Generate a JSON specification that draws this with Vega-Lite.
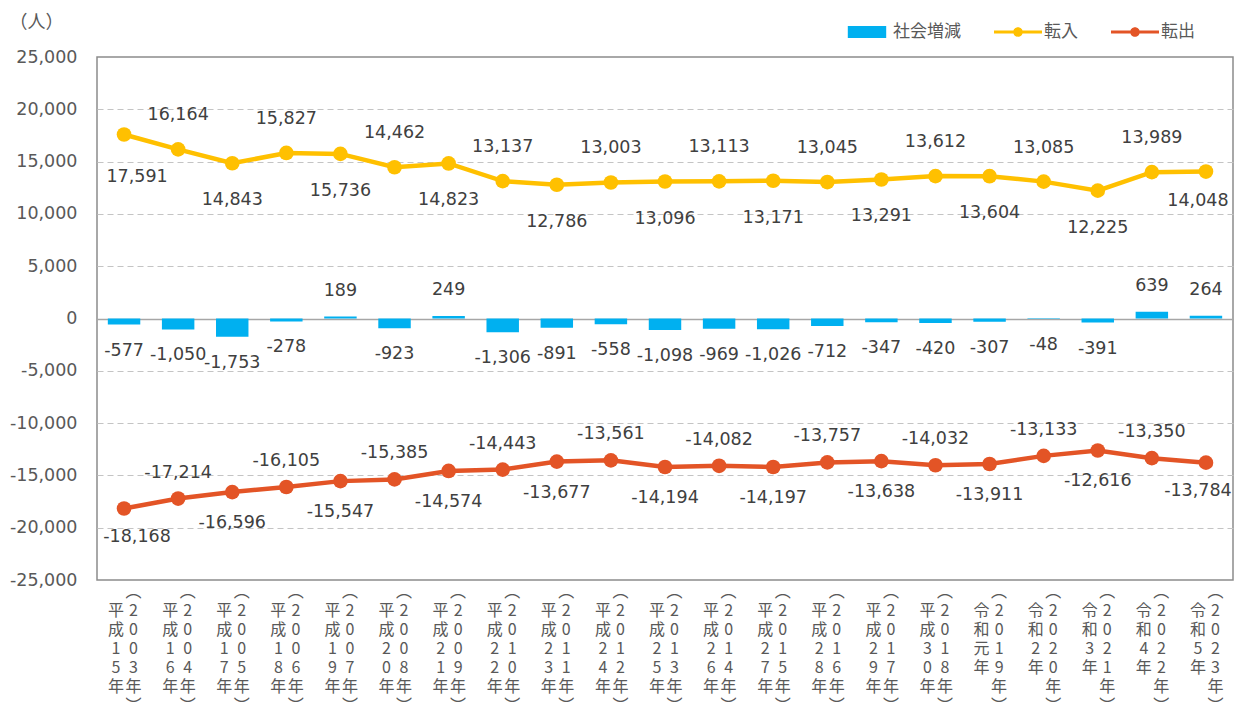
{
  "$schema": "https://vega.github.io/schema/vega-lite/v6.json",
  "width": 1136,
  "height": 523,
  "autosize": {"type": "none"},
  "padding": {"left": 97, "top": 57, "right": 6, "bottom": 124},
  "background": "white",
  "config": {
    "font": "DejaVu Sans, Noto Sans CJK JP",
    "view": {"stroke": "#8C8C8C", "strokeWidth": 1.5},
    "locale": {"number": {"decimal": ".", "thousands": ",", "grouping": [3], "currency": ["", ""], "minus": "-"}}
  },
  "data": {
    "values": [
      {"年度": "平成15年", "西暦": "︵2003年︶", "社会増減": -577, "転入": 17591, "転出": -18168},
      {"年度": "平成16年", "西暦": "︵2004年︶", "社会増減": -1050, "転入": 16164, "転出": -17214},
      {"年度": "平成17年", "西暦": "︵2005年︶", "社会増減": -1753, "転入": 14843, "転出": -16596},
      {"年度": "平成18年", "西暦": "︵2006年︶", "社会増減": -278, "転入": 15827, "転出": -16105},
      {"年度": "平成19年", "西暦": "︵2007年︶", "社会増減": 189, "転入": 15736, "転出": -15547},
      {"年度": "平成20年", "西暦": "︵2008年︶", "社会増減": -923, "転入": 14462, "転出": -15385},
      {"年度": "平成21年", "西暦": "︵2009年︶", "社会増減": 249, "転入": 14823, "転出": -14574},
      {"年度": "平成22年", "西暦": "︵2010年︶", "社会増減": -1306, "転入": 13137, "転出": -14443},
      {"年度": "平成23年", "西暦": "︵2011年︶", "社会増減": -891, "転入": 12786, "転出": -13677},
      {"年度": "平成24年", "西暦": "︵2012年︶", "社会増減": -558, "転入": 13003, "転出": -13561},
      {"年度": "平成25年", "西暦": "︵2013年︶", "社会増減": -1098, "転入": 13096, "転出": -14194},
      {"年度": "平成26年", "西暦": "︵2014年︶", "社会増減": -969, "転入": 13113, "転出": -14082},
      {"年度": "平成27年", "西暦": "︵2015年︶", "社会増減": -1026, "転入": 13171, "転出": -14197},
      {"年度": "平成28年", "西暦": "︵2016年︶", "社会増減": -712, "転入": 13045, "転出": -13757},
      {"年度": "平成29年", "西暦": "︵2017年︶", "社会増減": -347, "転入": 13291, "転出": -13638},
      {"年度": "平成30年", "西暦": "︵2018年︶", "社会増減": -420, "転入": 13612, "転出": -14032},
      {"年度": "令和元年", "西暦": "︵2019年︶", "社会増減": -307, "転入": 13604, "転出": -13911},
      {"年度": "令和2年", "西暦": "︵2020年︶", "社会増減": -48, "転入": 13085, "転出": -13133},
      {"年度": "令和3年", "西暦": "︵2021年︶", "社会増減": -391, "転入": 12225, "転出": -12616},
      {"年度": "令和4年", "西暦": "︵2022年︶", "社会増減": 639, "転入": 13989, "転出": -13350},
      {"年度": "令和5年", "西暦": "︵2023年︶", "社会増減": 264, "転入": 14048, "転出": -13784}
    ]
  },
  "layer": [
    {
      "layer": [
        {
          "mark": {"type": "bar"},
          "encoding": {
            "x": {
              "field": "年度", "type": "nominal", "sort": null,
              "scale": {"paddingInner": 0.4, "paddingOuter": 0.2},
              "axis": {
                "title": null, "orient": "bottom",
                "labelExpr": "split(datum.value, '')",
                "labelAngle": 0, "labelAlign": "center", "labelBaseline": "top",
                "labelOffset": -8, "labelPadding": 22, "labelLineHeight": 19,
                "labelFontSize": 16, "labelFont": "Noto Sans CJK JP", "labelColor": "#595959",
                "ticks": false, "domain": false, "grid": false,
                "labelOverlap": false, "labelBound": false, "labelFlush": false
              }
            },
            "y": {
              "field": "社会増減", "type": "quantitative",
              "scale": {"domain": [-25000, 25000], "nice": false, "zero": false},
              "axis": {
                "title": "（人）",
                "values": [-25000, -20000, -15000, -10000, -5000, 0, 5000, 10000, 15000, 20000, 25000],
                "labelExpr": "format(datum.value, ',')",
                "domain": false, "ticks": false,
                "labelPadding": 20, "labelFontSize": 17.5, "labelColor": "#595959",
                "labelFont": "DejaVu Sans",
                "grid": true,
                "gridColor": {"condition": {"test": "datum.value === 0", "value": "#A6A6A6"}, "value": "#C4C4C4"},
                "gridDash": {"condition": {"test": "datum.value === 0", "value": [1, 0]}, "value": [6, 4]},
                "gridWidth": {"condition": {"test": "datum.value === 0", "value": 1.5}, "value": 1.2},
                "gridOpacity": {"condition": {"test": "abs(datum.value) === 25000", "value": 0}, "value": 1},
                "titleAngle": 0, "titleAlign": "left", "titleBaseline": "middle",
                "titleX": -88, "titleY": -35,
                "titleFontWeight": "normal", "titleFontSize": 18, "titleColor": "#595959",
                "titleFont": "Noto Sans CJK JP"
              }
            },
            "color": {
              "datum": "社会増減", "type": "nominal",
              "scale": {"domain": ["社会増減", "転入", "転出"], "range": ["#00B0F0", "#FFC000", "#E35426"]},
              "legend": {
                "title": null, "orient": "none", "legendX": 746, "legendY": -49,
                "direction": "horizontal", "symbolSize": 2304,
                "labelFontSize": 17, "labelColor": "#595959", "labelFont": "Noto Sans CJK JP",
                "columnPadding": 33, "labelOffset": 2, "padding": 0,
                "symbolOpacity": 1, "symbolStrokeWidth": 0,
                "encode": {
                  "symbols": {
                    "update": {
                      "shape": {"signal": "datum.value === '社会増減' ? 'M-0.8,-0.25H0.8V0.25H-0.8Z' : 'M-1,-0.065H1V0.065H-1ZM0.2,0A0.2,0.2 0 1,1 -0.2,0A0.2,0.2 0 1,1 0.2,0Z'"},
                      "fill": {"scale": "color", "field": "value"},
                      "stroke": {"value": "transparent"},
                      "opacity": {"value": 1}
                    }
                  }
                }
              }
            }
          }
        },
        {
          "transform": [{"filter": "datum['社会増減'] < 0"}],
          "mark": {"type": "text", "dy": 26, "fontSize": 17.5, "color": "#404040", "baseline": "middle", "font": "DejaVu Sans"},
          "encoding": {
            "x": {"field": "年度", "type": "nominal", "sort": null},
            "y": {"field": "社会増減", "type": "quantitative", "scale": {"domain": [-25000, 25000], "nice": false, "zero": false}},
            "text": {"field": "社会増減", "type": "quantitative", "format": ","}
          }
        },
        {
          "transform": [{"filter": "datum['社会増減'] >= 0"}],
          "mark": {"type": "text", "dy": -26, "fontSize": 17.5, "color": "#404040", "baseline": "middle", "font": "DejaVu Sans"},
          "encoding": {
            "x": {"field": "年度", "type": "nominal", "sort": null},
            "y": {"field": "社会増減", "type": "quantitative", "scale": {"domain": [-25000, 25000], "nice": false, "zero": false}},
            "text": {"field": "社会増減", "type": "quantitative", "format": ","}
          }
        },
        {
          "transform": [{"fold": ["転入", "転出"], "as": ["系列", "人数"]}],
          "mark": {"type": "line", "strokeWidth": 4.5, "point": {"filled": true, "size": 215, "opacity": 1}},
          "encoding": {
            "x": {"field": "年度", "type": "nominal", "sort": null},
            "y": {"field": "人数", "type": "quantitative", "scale": {"domain": [-25000, 25000], "nice": false, "zero": false}},
            "color": {"field": "系列", "type": "nominal", "legend": {"title": null}}
          }
        },
        {
          "transform": [{"window": [{"op": "row_number", "as": "idx"}]}, {"filter": "datum.idx % 2 === 0"}],
          "mark": {"type": "text", "dy": -34, "fontSize": 17.5, "color": "#404040", "baseline": "middle", "font": "DejaVu Sans"},
          "encoding": {
            "x": {"field": "年度", "type": "nominal", "sort": null},
            "y": {"field": "転入", "type": "quantitative", "scale": {"domain": [-25000, 25000], "nice": false, "zero": false}},
            "text": {"field": "転入", "type": "quantitative", "format": ","}
          }
        },
        {
          "transform": [{"window": [{"op": "row_number", "as": "idx"}]}, {"filter": "datum.idx % 2 === 1 && datum.idx > 1 && datum.idx < 21"}],
          "mark": {"type": "text", "dy": 37, "fontSize": 17.5, "color": "#404040", "baseline": "middle", "font": "DejaVu Sans"},
          "encoding": {
            "x": {"field": "年度", "type": "nominal", "sort": null},
            "y": {"field": "転入", "type": "quantitative", "scale": {"domain": [-25000, 25000], "nice": false, "zero": false}},
            "text": {"field": "転入", "type": "quantitative", "format": ","}
          }
        },
        {
          "transform": [{"window": [{"op": "row_number", "as": "idx"}]}, {"filter": "datum.idx === 1"}],
          "mark": {"type": "text", "dy": 43, "dx": 13, "fontSize": 17.5, "color": "#404040", "baseline": "middle", "font": "DejaVu Sans"},
          "encoding": {
            "x": {"field": "年度", "type": "nominal", "sort": null},
            "y": {"field": "転入", "type": "quantitative", "scale": {"domain": [-25000, 25000], "nice": false, "zero": false}},
            "text": {"field": "転入", "type": "quantitative", "format": ","}
          }
        },
        {
          "transform": [{"window": [{"op": "row_number", "as": "idx"}]}, {"filter": "datum.idx === 21"}],
          "mark": {"type": "text", "dy": 29, "dx": -8, "fontSize": 17.5, "color": "#404040", "baseline": "middle", "font": "DejaVu Sans"},
          "encoding": {
            "x": {"field": "年度", "type": "nominal", "sort": null},
            "y": {"field": "転入", "type": "quantitative", "scale": {"domain": [-25000, 25000], "nice": false, "zero": false}},
            "text": {"field": "転入", "type": "quantitative", "format": ","}
          }
        },
        {
          "transform": [{"window": [{"op": "row_number", "as": "idx"}]}, {"filter": "datum.idx % 2 === 0"}],
          "mark": {"type": "text", "dy": -26, "fontSize": 17.5, "color": "#404040", "baseline": "middle", "font": "DejaVu Sans"},
          "encoding": {
            "x": {"field": "年度", "type": "nominal", "sort": null},
            "y": {"field": "転出", "type": "quantitative", "scale": {"domain": [-25000, 25000], "nice": false, "zero": false}},
            "text": {"field": "転出", "type": "quantitative", "format": ","}
          }
        },
        {
          "transform": [{"window": [{"op": "row_number", "as": "idx"}]}, {"filter": "datum.idx % 2 === 1 && datum.idx > 1 && datum.idx < 21"}],
          "mark": {"type": "text", "dy": 31, "fontSize": 17.5, "color": "#404040", "baseline": "middle", "font": "DejaVu Sans"},
          "encoding": {
            "x": {"field": "年度", "type": "nominal", "sort": null},
            "y": {"field": "転出", "type": "quantitative", "scale": {"domain": [-25000, 25000], "nice": false, "zero": false}},
            "text": {"field": "転出", "type": "quantitative", "format": ","}
          }
        },
        {
          "transform": [{"window": [{"op": "row_number", "as": "idx"}]}, {"filter": "datum.idx === 1"}],
          "mark": {"type": "text", "dy": 28, "dx": 13, "fontSize": 17.5, "color": "#404040", "baseline": "middle", "font": "DejaVu Sans"},
          "encoding": {
            "x": {"field": "年度", "type": "nominal", "sort": null},
            "y": {"field": "転出", "type": "quantitative", "scale": {"domain": [-25000, 25000], "nice": false, "zero": false}},
            "text": {"field": "転出", "type": "quantitative", "format": ","}
          }
        },
        {
          "transform": [{"window": [{"op": "row_number", "as": "idx"}]}, {"filter": "datum.idx === 21"}],
          "mark": {"type": "text", "dy": 28, "dx": -8, "fontSize": 17.5, "color": "#404040", "baseline": "middle", "font": "DejaVu Sans"},
          "encoding": {
            "x": {"field": "年度", "type": "nominal", "sort": null},
            "y": {"field": "転出", "type": "quantitative", "scale": {"domain": [-25000, 25000], "nice": false, "zero": false}},
            "text": {"field": "転出", "type": "quantitative", "format": ","}
          }
        }
      ]
    },
    {
      "mark": {"type": "point", "opacity": 0},
      "encoding": {
        "x": {
          "field": "西暦", "type": "nominal", "sort": null,
          "axis": {
            "title": null, "orient": "bottom",
            "labelExpr": "split(datum.value, '')",
            "labelAngle": 0, "labelAlign": "center", "labelBaseline": "top",
            "labelOffset": 9, "labelPadding": 3, "labelLineHeight": 19,
            "labelFontSize": 16, "labelFont": "Noto Sans CJK JP", "labelColor": "#595959",
            "ticks": false, "domain": false, "grid": false,
            "labelOverlap": false, "labelBound": false, "labelFlush": false
          }
        }
      }
    }
  ],
  "resolve": {"scale": {"x": "independent"}, "axis": {"x": "independent"}}
}
